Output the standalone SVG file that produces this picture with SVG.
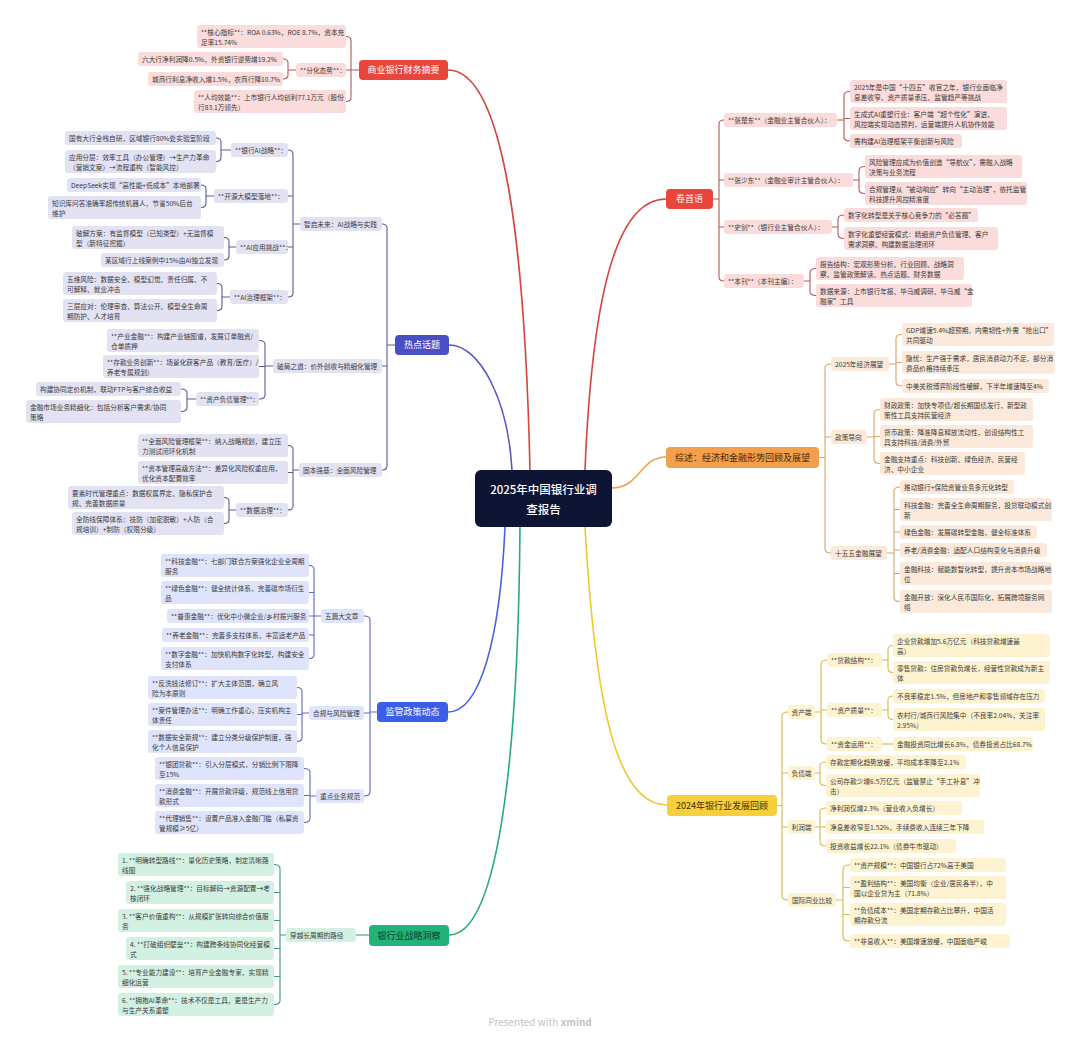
<svg xmlns="http://www.w3.org/2000/svg" width="1080" height="1042" viewBox="0 0 1080 1042">
<style>
text{font-family:"Noto Sans CJK SC","Noto Sans","Liberation Sans",sans-serif}
.t{font-size:6.7px;fill:#3a3a3a}
.m{font-size:9px;text-anchor:middle}
.wt{fill:#ffffff}
.ct{font-size:11.5px;fill:#ffffff;text-anchor:middle;font-weight:500}
.nr rect{fill:#f9dcdb}
.ni rect{fill:#e2e2f3}
.nb rect{fill:#dfe4fa}
.ng rect{fill:#d3f1e3}
.no rect{fill:#fbeadb}
.ny rect{fill:#fdf3d0}
#connectors path{fill:none}
.mc{stroke-width:1.6}
.sc{stroke-width:1.1}
.cr{stroke:#d4473f}.cr2{stroke:#b35a55}
.ci{stroke:#5557be}.ci2{stroke:#5c5c92}
.cb{stroke:#4563e0}.cb2{stroke:#5d6bc0}
.cg{stroke:#27ad74}.cg2{stroke:#3d9c70}
.co{stroke:#eea14f}.co2{stroke:#d6a56a}
.cy{stroke:#ecc933}.cy2{stroke:#d9b947}
</style>
<rect width="1080" height="1042" fill="#ffffff"/>
<g id="connectors">
<path class="mc cr" d="M530,470C525,250 505,70 448,70"/>
<path class="mc ci" d="M512,470C508,400 480,345 449,345"/>
<path class="mc cb" d="M505,527C500,640 480,712 448,712"/>
<path class="mc cg" d="M520,527C518,780 495,935 449,935"/>
<path class="mc cr" d="M585,470C592,300 615,199 666,199"/>
<path class="mc co" d="M612,488C640,488 640,457 666,457"/>
<path class="mc cy" d="M585,527C595,700 615,805 667,805"/>
<path class="sc cr2" d="M346,36.5Q351,36.5 351,40.5V97.5Q351,101.5 346,101.5M351,70H346M359,70H351"/>
<path class="sc cr2" d="M283,59Q288,59 288,63V75Q288,79 283,79M296,70H288"/>
<path class="sc ci2" d="M382,224Q387,224 387,228V466Q387,470 382,470M387,366H382M395,345H387"/>
<path class="sc ci2" d="M288,150Q293,150 293,154V293Q293,297 288,297M293,196H288M293,247H288M300,224H293"/>
<path class="sc ci2" d="M216,138Q221,138 221,142V157.5Q221,161.5 216,161.5M231,150H221"/>
<path class="sc ci2" d="M201,185Q206,185 206,189V203.5Q206,207.5 201,207.5M214,196H206"/>
<path class="sc ci2" d="M224,237.5Q229,237.5 229,241.5V256Q229,260 224,260M236,247H229"/>
<path class="sc ci2" d="M217,283.5Q222,283.5 222,287.5V306.5Q222,310.5 217,310.5M230,297H222"/>
<path class="sc ci2" d="M259,340.5Q265,340.5 265,344.5V395Q265,399 259,399M265,366.5H259M273,366H265"/>
<path class="sc ci2" d="M181,389Q187,389 187,393V407.5Q187,411.5 181,411.5M196,399H187"/>
<path class="sc ci2" d="M288,445.5Q293,445.5 293,449.5V506Q293,510 288,510M293,472.5H288M299,470H293"/>
<path class="sc ci2" d="M224,497.5Q229,497.5 229,501.5V519.5Q229,523.5 224,523.5M236,510H229"/>
<path class="sc cb2" d="M364,616Q370,616 370,620V792Q370,796 364,796M370,713H364M377,712H370"/>
<path class="sc cb2" d="M309,565.5Q314,565.5 314,569.5V654.5Q314,658.5 309,658.5M314,592.5H309M314,616H309M314,635H309M321,616H314"/>
<path class="sc cb2" d="M297,687.5Q302,687.5 302,691.5V737.5Q302,741.5 297,741.5M302,714.5H297M309,713H302"/>
<path class="sc cb2" d="M304,768.5Q310,768.5 310,772.5V818.5Q310,822.5 304,822.5M310,795.5H304M316,796H310"/>
<path class="sc cg2" d="M369,935H356"/>
<path class="sc cg2" d="M274,864.5Q280,864.5 280,868.5V1000.5Q280,1004.5 274,1004.5M280,892.5H274M280,920.5H274M280,948.5H274M280,976.5H274M286,935H280"/>
<path class="sc cr2" d="M724,120Q719,120 719,124V277Q719,281 724,281M719,180H724M719,227H724M713,199H719"/>
<path class="sc cr2" d="M850,91.5Q844,91.5 844,95.5V137Q844,141 850,141M844,118.5H850M837,120H844"/>
<path class="sc cr2" d="M865,166.5Q859,166.5 859,170.5V189.5Q859,193.5 865,193.5M853,180H859"/>
<path class="sc cr2" d="M844,215Q838,215 838,219V234.5Q838,238.5 844,238.5M832,227H838"/>
<path class="sc cr2" d="M816,268.5Q810,268.5 810,272.5V291.5Q810,295.5 816,295.5M804,281H810"/>
<path class="sc co2" d="M831,364Q825,364 825,368V549Q825,553 831,553M825,437H831M819,457.5H825"/>
<path class="sc co2" d="M902,334.5Q896,334.5 896,338.5V382Q896,386 902,386M896,362.5H902M889,364H896"/>
<path class="sc co2" d="M880,409.5Q874,409.5 874,413.5V459.5Q874,463.5 880,463.5M874,436.5H880M867,437H874"/>
<path class="sc co2" d="M900,487Q894,487 894,491V597.5Q894,601.5 900,601.5M894,509.5H900M894,532H900M894,550H900M894,573.5H900M887,553H894"/>
<path class="sc cy2" d="M788,712Q782,712 782,716V896Q782,900 788,900M782,773H788M782,827H788M777,805.5H782"/>
<path class="sc cy2" d="M827,660Q821,660 821,664V740Q821,744 827,744M821,710H827M815,712H821"/>
<path class="sc cy2" d="M893,645.5Q888,645.5 888,649.5V668.5Q888,672.5 893,672.5M882,660H888"/>
<path class="sc cy2" d="M893,696Q888,696 888,700V715.5Q888,719.5 893,719.5M882,710H888"/>
<path class="sc cy2" d="M882,744H893"/>
<path class="sc cy2" d="M826,762Q820,762 820,766V781.5Q820,785.5 826,785.5M815,773H820"/>
<path class="sc cy2" d="M826,808Q820,808 820,812V842Q820,846 826,846M820,827H826M815,827H820"/>
<path class="sc cy2" d="M850,865Q843,865 843,869V937Q843,941 850,941M843,887.5H850M843,914.5H850M836,900H843"/>
</g>

<g id="center"><rect x="475" y="470" width="137" height="57" rx="6" fill="#0e1433"/><text class="ct" x="543.5" y="494">2025年中国银行业调</text><text class="ct" x="543.5" y="514">查报告</text></g>

<!-- 商业银行财务摘要 -->
<g id="b-fin"><rect x="359" y="60" width="89" height="20" rx="4" fill="#e8453c"/><text class="m wt" x="403.5" y="73.3">商业银行财务摘要</text></g>
<g id="n-fin-1" class="nr"><rect x="197" y="25" width="149" height="23" rx="3"/><text class="t" x="201" y="34.5">**核心指标**：ROA 0.63%，ROE 8.7%，资本充<tspan x="201" dy="10">足率15.74%</tspan></text></g>
<g id="n-fin-2" class="nr"><rect x="296" y="63" width="50" height="14" rx="3"/><text class="t" x="300" y="72.7">**分化态势**：</text></g>
<g id="n-fin-2a" class="nr"><rect x="138" y="52" width="145" height="14" rx="3"/><text class="t" x="142" y="61.7">六大行净利润降0.5%，外资银行逆势增19.2%</text></g>
<g id="n-fin-2b" class="nr"><rect x="148" y="72" width="135" height="14" rx="3"/><text class="t" x="152" y="81.7">城商行利息净收入增1.5%，农商行降10.7%</text></g>
<g id="n-fin-3" class="nr"><rect x="194" y="90" width="152" height="23" rx="3"/><text class="t" x="198" y="99.5">**人均效能**：上市银行人均创利77.1万元（股份<tspan x="198" dy="10">行83.1万领先）</tspan></text></g>

<!-- 热点话题 -->
<g id="b-hot"><rect x="395" y="335" width="54" height="20" rx="4" fill="#4b4fc4"/><text class="m wt" x="422" y="348.3">热点话题</text></g>
<g id="n-ai" class="ni"><rect x="300" y="217" width="82" height="14" rx="3"/><text class="t" x="304" y="226.7">智启未来：AI战略与实践</text></g>
<g id="n-ai-1" class="ni"><rect x="231" y="143" width="57" height="14" rx="3"/><text class="t" x="235" y="152.7">**银行AI战略**：</text></g>
<g id="n-ai-1a" class="ni"><rect x="65" y="131" width="151" height="14" rx="3"/><text class="t" x="69" y="140.7">国有大行全栈自研，区域银行80%处实验室阶段</text></g>
<g id="n-ai-1b" class="ni"><rect x="65" y="150" width="151" height="23" rx="3"/><text class="t" x="69" y="159.5">应用分层：效率工具（办公管理）→生产力革命<tspan x="69" dy="10">（营销文案）→流程重构（智能风控）</tspan></text></g>
<g id="n-ai-2" class="ni"><rect x="214" y="189" width="74" height="14" rx="3"/><text class="t" x="218" y="198.7">**开源大模型落地**：</text></g>
<g id="n-ai-2a" class="ni"><rect x="67" y="178" width="134" height="14" rx="3"/><text class="t" x="71" y="187.7">DeepSeek实现“高性能+低成本”本地部署</text></g>
<g id="n-ai-2b" class="ni"><rect x="48" y="196" width="153" height="23" rx="3"/><text class="t" x="52" y="205.5">知识库问答准确率超传统机器人，节省50%后台<tspan x="52" dy="10">维护</tspan></text></g>
<g id="n-ai-3" class="ni"><rect x="236" y="240" width="52" height="14" rx="3"/><text class="t" x="240" y="249.7">**AI应用挑战**：</text></g>
<g id="n-ai-3a" class="ni"><rect x="72" y="226" width="152" height="23" rx="3"/><text class="t" x="76" y="235.5">破解方案：有监督模型（已知类型）+无监督模<tspan x="76" dy="10">型（新特征挖掘）</tspan></text></g>
<g id="n-ai-3b" class="ni"><rect x="101" y="253" width="123" height="14" rx="3"/><text class="t" x="105" y="262.7">某区域行上线案例中15%由AI独立发现</text></g>
<g id="n-ai-4" class="ni"><rect x="230" y="290" width="58" height="14" rx="3"/><text class="t" x="234" y="299.7">**AI治理框架**：</text></g>
<g id="n-ai-4a" class="ni"><rect x="63" y="272" width="154" height="23" rx="3"/><text class="t" x="67" y="281.5">五维风险：数据安全、模型幻觉、责任归属、不<tspan x="67" dy="10">可解释、就业冲击</tspan></text></g>
<g id="n-ai-4b" class="ni"><rect x="63" y="299" width="154" height="23" rx="3"/><text class="t" x="67" y="308.5">三层应对：伦理审查、算法公开、模型全生命周<tspan x="67" dy="10">期防护、人才培育</tspan></text></g>
<g id="n-pj" class="ni"><rect x="273" y="359" width="109" height="14" rx="3"/><text class="t" x="277" y="368.7">破局之道：价外创收与精细化管理</text></g>
<g id="n-pj-1" class="ni"><rect x="107" y="329" width="152" height="23" rx="3"/><text class="t" x="111" y="338.5">**产业金融**：构建产业链图谱，发展订单融资/<tspan x="111" dy="10">仓单质押</tspan></text></g>
<g id="n-pj-2" class="ni"><rect x="103" y="355" width="156" height="23" rx="3"/><text class="t" x="107" y="364.5">**存款业务创新**：场景化获客产品（教育/医疗）/<tspan x="107" dy="10">养老专属规划）</tspan></text></g>
<g id="n-pj-3" class="ni"><rect x="196" y="392" width="63" height="14" rx="3"/><text class="t" x="200" y="401.7">**资产负债管理**：</text></g>
<g id="n-pj-3a" class="ni"><rect x="36" y="382" width="145" height="14" rx="3"/><text class="t" x="40" y="391.7">构建协同定价机制，联动FTP与客户综合收益</text></g>
<g id="n-pj-3b" class="ni"><rect x="26" y="400" width="155" height="23" rx="3"/><text class="t" x="30" y="409.5">金融市场业务精细化：包括分析客户需求/协同<tspan x="30" dy="10">策略</tspan></text></g>
<g id="n-gb" class="ni"><rect x="299" y="463" width="83" height="14" rx="3"/><text class="t" x="303" y="472.7">固本强基：全面风险管理</text></g>
<g id="n-gb-1" class="ni"><rect x="138" y="434" width="150" height="23" rx="3"/><text class="t" x="142" y="443.5">**全面风险管理框架**：纳入战略规划，建立压<tspan x="142" dy="10">力测试闭环化机制</tspan></text></g>
<g id="n-gb-2" class="ni"><rect x="138" y="461" width="150" height="23" rx="3"/><text class="t" x="142" y="470.5">**资本管理高级方法**：差异化风险权重应用，<tspan x="142" dy="10">优化资本配置效率</tspan></text></g>
<g id="n-gb-3" class="ni"><rect x="236" y="503" width="52" height="14" rx="3"/><text class="t" x="240" y="512.7">**数据治理**：</text></g>
<g id="n-gb-3a" class="ni"><rect x="68" y="486" width="156" height="23" rx="3"/><text class="t" x="72" y="495.5">要素时代管理重点：数据权属界定、隐私保护合<tspan x="72" dy="10">规、完善数据质量</tspan></text></g>
<g id="n-gb-3b" class="ni"><rect x="72" y="512" width="152" height="23" rx="3"/><text class="t" x="76" y="521.5">全防线保障体系：技防（加密脱敏）+人防（合<tspan x="76" dy="10">规培训）+制防（权限分级）</tspan></text></g>

<!-- 监管政策动态 -->
<g id="b-reg"><rect x="377" y="702" width="71" height="20" rx="4" fill="#3c5de6"/><text class="m wt" x="412.5" y="715.3">监管政策动态</text></g>
<g id="n-wp" class="nb"><rect x="321" y="609" width="43" height="14" rx="3"/><text class="t" x="325" y="618.7">五篇大文章</text></g>
<g id="n-wp-1" class="nb"><rect x="161" y="554" width="148" height="23" rx="3"/><text class="t" x="165" y="563.5">**科技金融**：七部门联合方案强化企业全周期<tspan x="165" dy="10">服务</tspan></text></g>
<g id="n-wp-2" class="nb"><rect x="161" y="581" width="148" height="23" rx="3"/><text class="t" x="165" y="590.5">**绿色金融**：健全统计体系，完善碳市场衍生<tspan x="165" dy="10">品</tspan></text></g>
<g id="n-wp-3" class="nb"><rect x="167" y="609" width="142" height="14" rx="3"/><text class="t" x="171" y="618.7">**普惠金融**：优化中小微企业/乡村振兴服务</text></g>
<g id="n-wp-4" class="nb"><rect x="162" y="628" width="147" height="14" rx="3"/><text class="t" x="166" y="637.7">**养老金融**：完善多支柱体系，丰富适老产品</text></g>
<g id="n-wp-5" class="nb"><rect x="161" y="647" width="148" height="23" rx="3"/><text class="t" x="165" y="656.5">**数字金融**：加快机构数字化转型，构建安全<tspan x="165" dy="10">支付体系</tspan></text></g>
<g id="n-hg" class="nb"><rect x="309" y="706" width="55" height="14" rx="3"/><text class="t" x="313" y="715.7">合规与风险管理</text></g>
<g id="n-hg-1" class="nb"><rect x="148" y="676" width="149" height="23" rx="3"/><text class="t" x="152" y="685.5">**反洗钱法修订**：扩大主体范围，确立风<tspan x="152" dy="10">险为本原则</tspan></text></g>
<g id="n-hg-2" class="nb"><rect x="148" y="703" width="149" height="23" rx="3"/><text class="t" x="152" y="712.5">**案件管理办法**：明确工作重心，压实机构主<tspan x="152" dy="10">体责任</tspan></text></g>
<g id="n-hg-3" class="nb"><rect x="148" y="730" width="149" height="23" rx="3"/><text class="t" x="152" y="739.5">**数据安全新规**：建立分类分级保护制度，强<tspan x="152" dy="10">化个人信息保护</tspan></text></g>
<g id="n-zd" class="nb"><rect x="316" y="789" width="48" height="14" rx="3"/><text class="t" x="320" y="798.7">重点业务规范</text></g>
<g id="n-zd-1" class="nb"><rect x="155" y="757" width="149" height="23" rx="3"/><text class="t" x="159" y="766.5">**银团贷款**：引入分层模式，分销比例下限降<tspan x="159" dy="10">至15%</tspan></text></g>
<g id="n-zd-2" class="nb"><rect x="155" y="784" width="149" height="23" rx="3"/><text class="t" x="159" y="793.5">**消费金融**：开展贷款评级，规范线上信用贷<tspan x="159" dy="10">款形式</tspan></text></g>
<g id="n-zd-3" class="nb"><rect x="155" y="811" width="149" height="23" rx="3"/><text class="t" x="159" y="820.5">**代理销售**：设置产品准入金融门槛（私募资<tspan x="159" dy="10">管规模≥5亿）</tspan></text></g>

<!-- 银行业战略洞察 -->
<g id="b-str"><rect x="369" y="925" width="80" height="21" rx="4" fill="#23b27a"/><text class="m" x="409" y="939" fill="#0f3f2b">银行业战略洞察</text></g>
<g id="n-cy" class="ng"><rect x="286" y="928" width="70" height="14" rx="3"/><text class="t" x="290" y="937.7">穿越长周期的路径</text></g>
<g id="n-cy-1" class="ng"><rect x="118" y="853" width="156" height="23" rx="3"/><text class="t" x="122" y="862.5">1. **明确转型路线**：量化历史策略，制定清晰路<tspan x="122" dy="10">线图</tspan></text></g>
<g id="n-cy-2" class="ng"><rect x="126" y="881" width="148" height="23" rx="3"/><text class="t" x="130" y="890.5">2. **强化战略管理**：目标解码→资源配置→考<tspan x="130" dy="10">核闭环</tspan></text></g>
<g id="n-cy-3" class="ng"><rect x="118" y="909" width="156" height="23" rx="3"/><text class="t" x="122" y="918.5">3. **客户价值重构**：从规模扩张转向综合价值服<tspan x="122" dy="10">务</tspan></text></g>
<g id="n-cy-4" class="ng"><rect x="126" y="937" width="148" height="23" rx="3"/><text class="t" x="130" y="946.5">4. **打破组织壁垒**：构建跨条线协同化经营模<tspan x="130" dy="10">式</tspan></text></g>
<g id="n-cy-5" class="ng"><rect x="118" y="965" width="156" height="23" rx="3"/><text class="t" x="122" y="974.5">5. **专业能力建设**：培育产业金融专家，实现精<tspan x="122" dy="10">细化运营</tspan></text></g>
<g id="n-cy-6" class="ng"><rect x="118" y="993" width="156" height="23" rx="3"/><text class="t" x="122" y="1002.5">6. **拥抱AI革命**：技术不仅是工具，更是生产力<tspan x="122" dy="10">与生产关系重塑</tspan></text></g>

<!-- 卷首语 -->
<g id="b-pre"><rect x="666" y="189" width="47" height="20" rx="4" fill="#e8453c"/><text class="m wt" x="689.5" y="202.3">卷首语</text></g>
<g id="n-zc" class="nr"><rect x="724" y="113" width="113" height="14" rx="3"/><text class="t" x="728" y="122.7">**张楚东**（金融业主管合伙人）：</text></g>
<g id="n-zc-1" class="nr"><rect x="850" y="80" width="157" height="23" rx="3"/><text class="t" x="854" y="89.5">2025年是中国“十四五”收官之年，银行业面临净<tspan x="854" dy="10">息差收窄、资产质量承压、监管趋严等挑战</tspan></text></g>
<g id="n-zc-2" class="nr"><rect x="850" y="107" width="157" height="23" rx="3"/><text class="t" x="854" y="116.5">生成式AI重塑行业：客户端“超个性化”演进，<tspan x="854" dy="10">风控端实现动态预判，运营端提升人机协作效能</tspan></text></g>
<g id="n-zc-3" class="nr"><rect x="850" y="134" width="112" height="14" rx="3"/><text class="t" x="854" y="143.7">需构建AI治理框架平衡创新与风险</text></g>
<g id="n-zs" class="nr"><rect x="724" y="173" width="129" height="14" rx="3"/><text class="t" x="728" y="182.7">**张少东**（金融业审计主管合伙人）：</text></g>
<g id="n-zs-1" class="nr"><rect x="865" y="155" width="157" height="23" rx="3"/><text class="t" x="869" y="164.5">风险管理应成为价值创造“导航仪”，需融入战略<tspan x="869" dy="10">决策与业务流程</tspan></text></g>
<g id="n-zs-2" class="nr"><rect x="865" y="182" width="162" height="23" rx="3"/><text class="t" x="869" y="191.5">合规管理从“被动响应”转向“主动治理”，依托监管<tspan x="869" dy="10">科技提升风控精准度</tspan></text></g>
<g id="n-sj" class="nr"><rect x="724" y="220" width="108" height="14" rx="3"/><text class="t" x="728" y="229.7">**史剑**（银行业主管合伙人）：</text></g>
<g id="n-sj-1" class="nr"><rect x="844" y="208" width="134" height="14" rx="3"/><text class="t" x="848" y="217.7">数字化转型是关乎核心竞争力的“必答题”</text></g>
<g id="n-sj-2" class="nr"><rect x="844" y="227" width="154" height="23" rx="3"/><text class="t" x="848" y="236.5">数字化重塑经营模式：精细资产负债管理、客户<tspan x="848" dy="10">需求洞察、构建数据治理闭环</tspan></text></g>
<g id="n-bk" class="nr"><rect x="724" y="274" width="80" height="14" rx="3"/><text class="t" x="728" y="283.7">**本刊**（本刊主编）：</text></g>
<g id="n-bk-1" class="nr"><rect x="816" y="257" width="148" height="23" rx="3"/><text class="t" x="820" y="266.5">报告结构：宏观形势分析、行业回顾、战略洞<tspan x="820" dy="10">察、监管政策解读、热点话题、财务数据</tspan></text></g>
<g id="n-bk-2" class="nr"><rect x="816" y="284" width="156" height="23" rx="3"/><text class="t" x="820" y="293.5">数据来源：上市银行年报、毕马威调研、毕马威“金<tspan x="820" dy="10">融家”工具</tspan></text></g>

<!-- 综述 -->
<g id="b-rev"><rect x="666" y="447" width="153" height="21" rx="4" fill="#f2a04c"/><text class="m" x="742.5" y="461" fill="#4a2708">综述：经济和金融形势回顾及展望</text></g>
<g id="n-25" class="no"><rect x="831" y="357" width="58" height="14" rx="3"/><text class="t" x="835" y="366.7">2025年经济展望</text></g>
<g id="n-25-1" class="no"><rect x="902" y="323" width="152" height="23" rx="3"/><text class="t" x="906" y="332.5">GDP增速5.4%超预期，内需韧性+外需“抢出口”<tspan x="906" dy="10">共同驱动</tspan></text></g>
<g id="n-25-2" class="no"><rect x="902" y="351" width="153" height="23" rx="3"/><text class="t" x="906" y="360.5">隐忧：生产强于需求，居民消费动力不足，部分消<tspan x="906" dy="10">费品价格持续承压</tspan></text></g>
<g id="n-25-3" class="no"><rect x="902" y="379" width="147" height="14" rx="3"/><text class="t" x="906" y="388.7">中美关税博弈阶段性缓解，下半年增速降至4%</text></g>
<g id="n-zc2" class="no"><rect x="831" y="430" width="36" height="14" rx="3"/><text class="t" x="835" y="439.7">政策导向</text></g>
<g id="n-zc2-1" class="no"><rect x="880" y="398" width="153" height="23" rx="3"/><text class="t" x="884" y="407.5">财政政策：加快专项债/超长期国债发行，新型政<tspan x="884" dy="10">策性工具支持民营经济</tspan></text></g>
<g id="n-zc2-2" class="no"><rect x="880" y="425" width="153" height="23" rx="3"/><text class="t" x="884" y="434.5">货币政策：降准降息释放流动性，创设结构性工<tspan x="884" dy="10">具支持科技/消费/外贸</tspan></text></g>
<g id="n-zc2-3" class="no"><rect x="880" y="452" width="145" height="23" rx="3"/><text class="t" x="884" y="461.5">金融支持重点：科技创新、绿色经济、民营经<tspan x="884" dy="10">济、中小企业</tspan></text></g>
<g id="n-15" class="no"><rect x="831" y="546" width="56" height="14" rx="3"/><text class="t" x="835" y="555.7">十五五金融展望</text></g>
<g id="n-15-1" class="no"><rect x="900" y="480" width="114" height="14" rx="3"/><text class="t" x="904" y="489.7">推动银行+保险资管业务多元化转型</text></g>
<g id="n-15-2" class="no"><rect x="900" y="498" width="152" height="23" rx="3"/><text class="t" x="904" y="507.5">科技金融：完善全生命周期服务，投贷联动模式创<tspan x="904" dy="10">新</tspan></text></g>
<g id="n-15-3" class="no"><rect x="900" y="525" width="137" height="14" rx="3"/><text class="t" x="904" y="534.7">绿色金融：发展碳转型金融，健全标准体系</text></g>
<g id="n-15-4" class="no"><rect x="900" y="543" width="147" height="14" rx="3"/><text class="t" x="904" y="552.7">养老/消费金融：适配人口结构变化与消费升级</text></g>
<g id="n-15-5" class="no"><rect x="900" y="562" width="152" height="23" rx="3"/><text class="t" x="904" y="571.5">金融科技：赋能数智化转型，提升资本市场战略地<tspan x="904" dy="10">位</tspan></text></g>
<g id="n-15-6" class="no"><rect x="900" y="590" width="152" height="23" rx="3"/><text class="t" x="904" y="599.5">金融开放：深化人民币国际化，拓展跨境服务网<tspan x="904" dy="10">络</tspan></text></g>

<!-- 2024年银行业发展回顾 -->
<g id="b-2024"><rect x="667" y="795" width="110" height="21" rx="4" fill="#f6d03c"/><text class="m" x="722" y="809" fill="#3d3000">2024年银行业发展回顾</text></g>
<g id="n-zcd" class="ny"><rect x="788" y="705" width="27" height="14" rx="3"/><text class="t" x="791.5" y="714.7">资产端</text></g>
<g id="n-dk" class="ny"><rect x="827" y="653" width="55" height="14" rx="3"/><text class="t" x="831" y="662.7">**贷款结构**：</text></g>
<g id="n-dk-1" class="ny"><rect x="893" y="634" width="157" height="23" rx="3"/><text class="t" x="897" y="643.5">企业贷款增加5.6万亿元（科技贷款增速最<tspan x="897" dy="10">高）</tspan></text></g>
<g id="n-dk-2" class="ny"><rect x="893" y="661" width="157" height="23" rx="3"/><text class="t" x="897" y="670.5">零售贷款：住房贷款负增长，经营性贷款成为新主<tspan x="897" dy="10">体</tspan></text></g>
<g id="n-zl" class="ny"><rect x="827" y="703" width="55" height="14" rx="3"/><text class="t" x="831" y="712.7">**资产质量**：</text></g>
<g id="n-zl-1" class="ny"><rect x="893" y="689" width="152" height="14" rx="3"/><text class="t" x="897" y="698.7">不良率稳定1.5%，但房地产和零售领域存在压力</text></g>
<g id="n-zl-2" class="ny"><rect x="893" y="708" width="152" height="23" rx="3"/><text class="t" x="897" y="717.5">农村行/城商行风险集中（不良率2.04%，关注率<tspan x="897" dy="10">2.95%）</tspan></text></g>
<g id="n-zj" class="ny"><rect x="827" y="737" width="55" height="14" rx="3"/><text class="t" x="831" y="746.7">**资金运用**：</text></g>
<g id="n-zj-1" class="ny"><rect x="893" y="737" width="140" height="14" rx="3"/><text class="t" x="897" y="746.7">金融投资同比增长6.8%，债券投资占比68.7%</text></g>
<g id="n-fz" class="ny"><rect x="788" y="766" width="27" height="14" rx="3"/><text class="t" x="791.5" y="775.7">负债端</text></g>
<g id="n-fz-1" class="ny"><rect x="826" y="755" width="140" height="14" rx="3"/><text class="t" x="830" y="764.7">存款定期化趋势放缓，平均成本率降至2.1%</text></g>
<g id="n-fz-2" class="ny"><rect x="826" y="774" width="154" height="23" rx="3"/><text class="t" x="830" y="783.5">公司存款少增6.5万亿元（监管禁止“手工补息”冲<tspan x="830" dy="10">击）</tspan></text></g>
<g id="n-lr" class="ny"><rect x="788" y="820" width="27" height="14" rx="3"/><text class="t" x="791.5" y="829.7">利润端</text></g>
<g id="n-lr-1" class="ny"><rect x="826" y="801" width="136" height="14" rx="3"/><text class="t" x="830" y="810.7">净利润仅增2.3%（营业收入负增长）</text></g>
<g id="n-lr-2" class="ny"><rect x="826" y="820" width="158" height="14" rx="3"/><text class="t" x="830" y="829.7">净息差收窄至1.52%，手续费收入连续三年下降</text></g>
<g id="n-lr-3" class="ny"><rect x="826" y="839" width="130" height="14" rx="3"/><text class="t" x="830" y="848.7">投资收益增长22.1%（债券牛市驱动）</text></g>
<g id="n-gj" class="ny"><rect x="788" y="893" width="48" height="14" rx="3"/><text class="t" x="792" y="902.7">国际同业比较</text></g>
<g id="n-gj-1" class="ny"><rect x="850" y="858" width="156" height="14" rx="3"/><text class="t" x="854" y="867.7">**资产规模**：中国银行占72%高于美国</text></g>
<g id="n-gj-2" class="ny"><rect x="850" y="876" width="156" height="23" rx="3"/><text class="t" x="854" y="885.5">**盈利结构**：美国均衡（企业/居民各半），中<tspan x="854" dy="10">国以企业贷为主（71.8%）</tspan></text></g>
<g id="n-gj-3" class="ny"><rect x="850" y="903" width="156" height="23" rx="3"/><text class="t" x="854" y="912.5">**负债成本**：美国定期存款占比攀升，中国活<tspan x="854" dy="10">期存款分流</tspan></text></g>
<g id="n-gj-4" class="ny"><rect x="850" y="934" width="160" height="14" rx="3"/><text class="t" x="854" y="943.7">**非息收入**：美国增速放缓，中国面临严峻</text></g>

<text x="540" y="1026" text-anchor="middle" font-family="Liberation Sans, sans-serif" font-size="10" fill="#c4c4c4">Presented with <tspan font-weight="bold">xmind</tspan></text>
</svg>
